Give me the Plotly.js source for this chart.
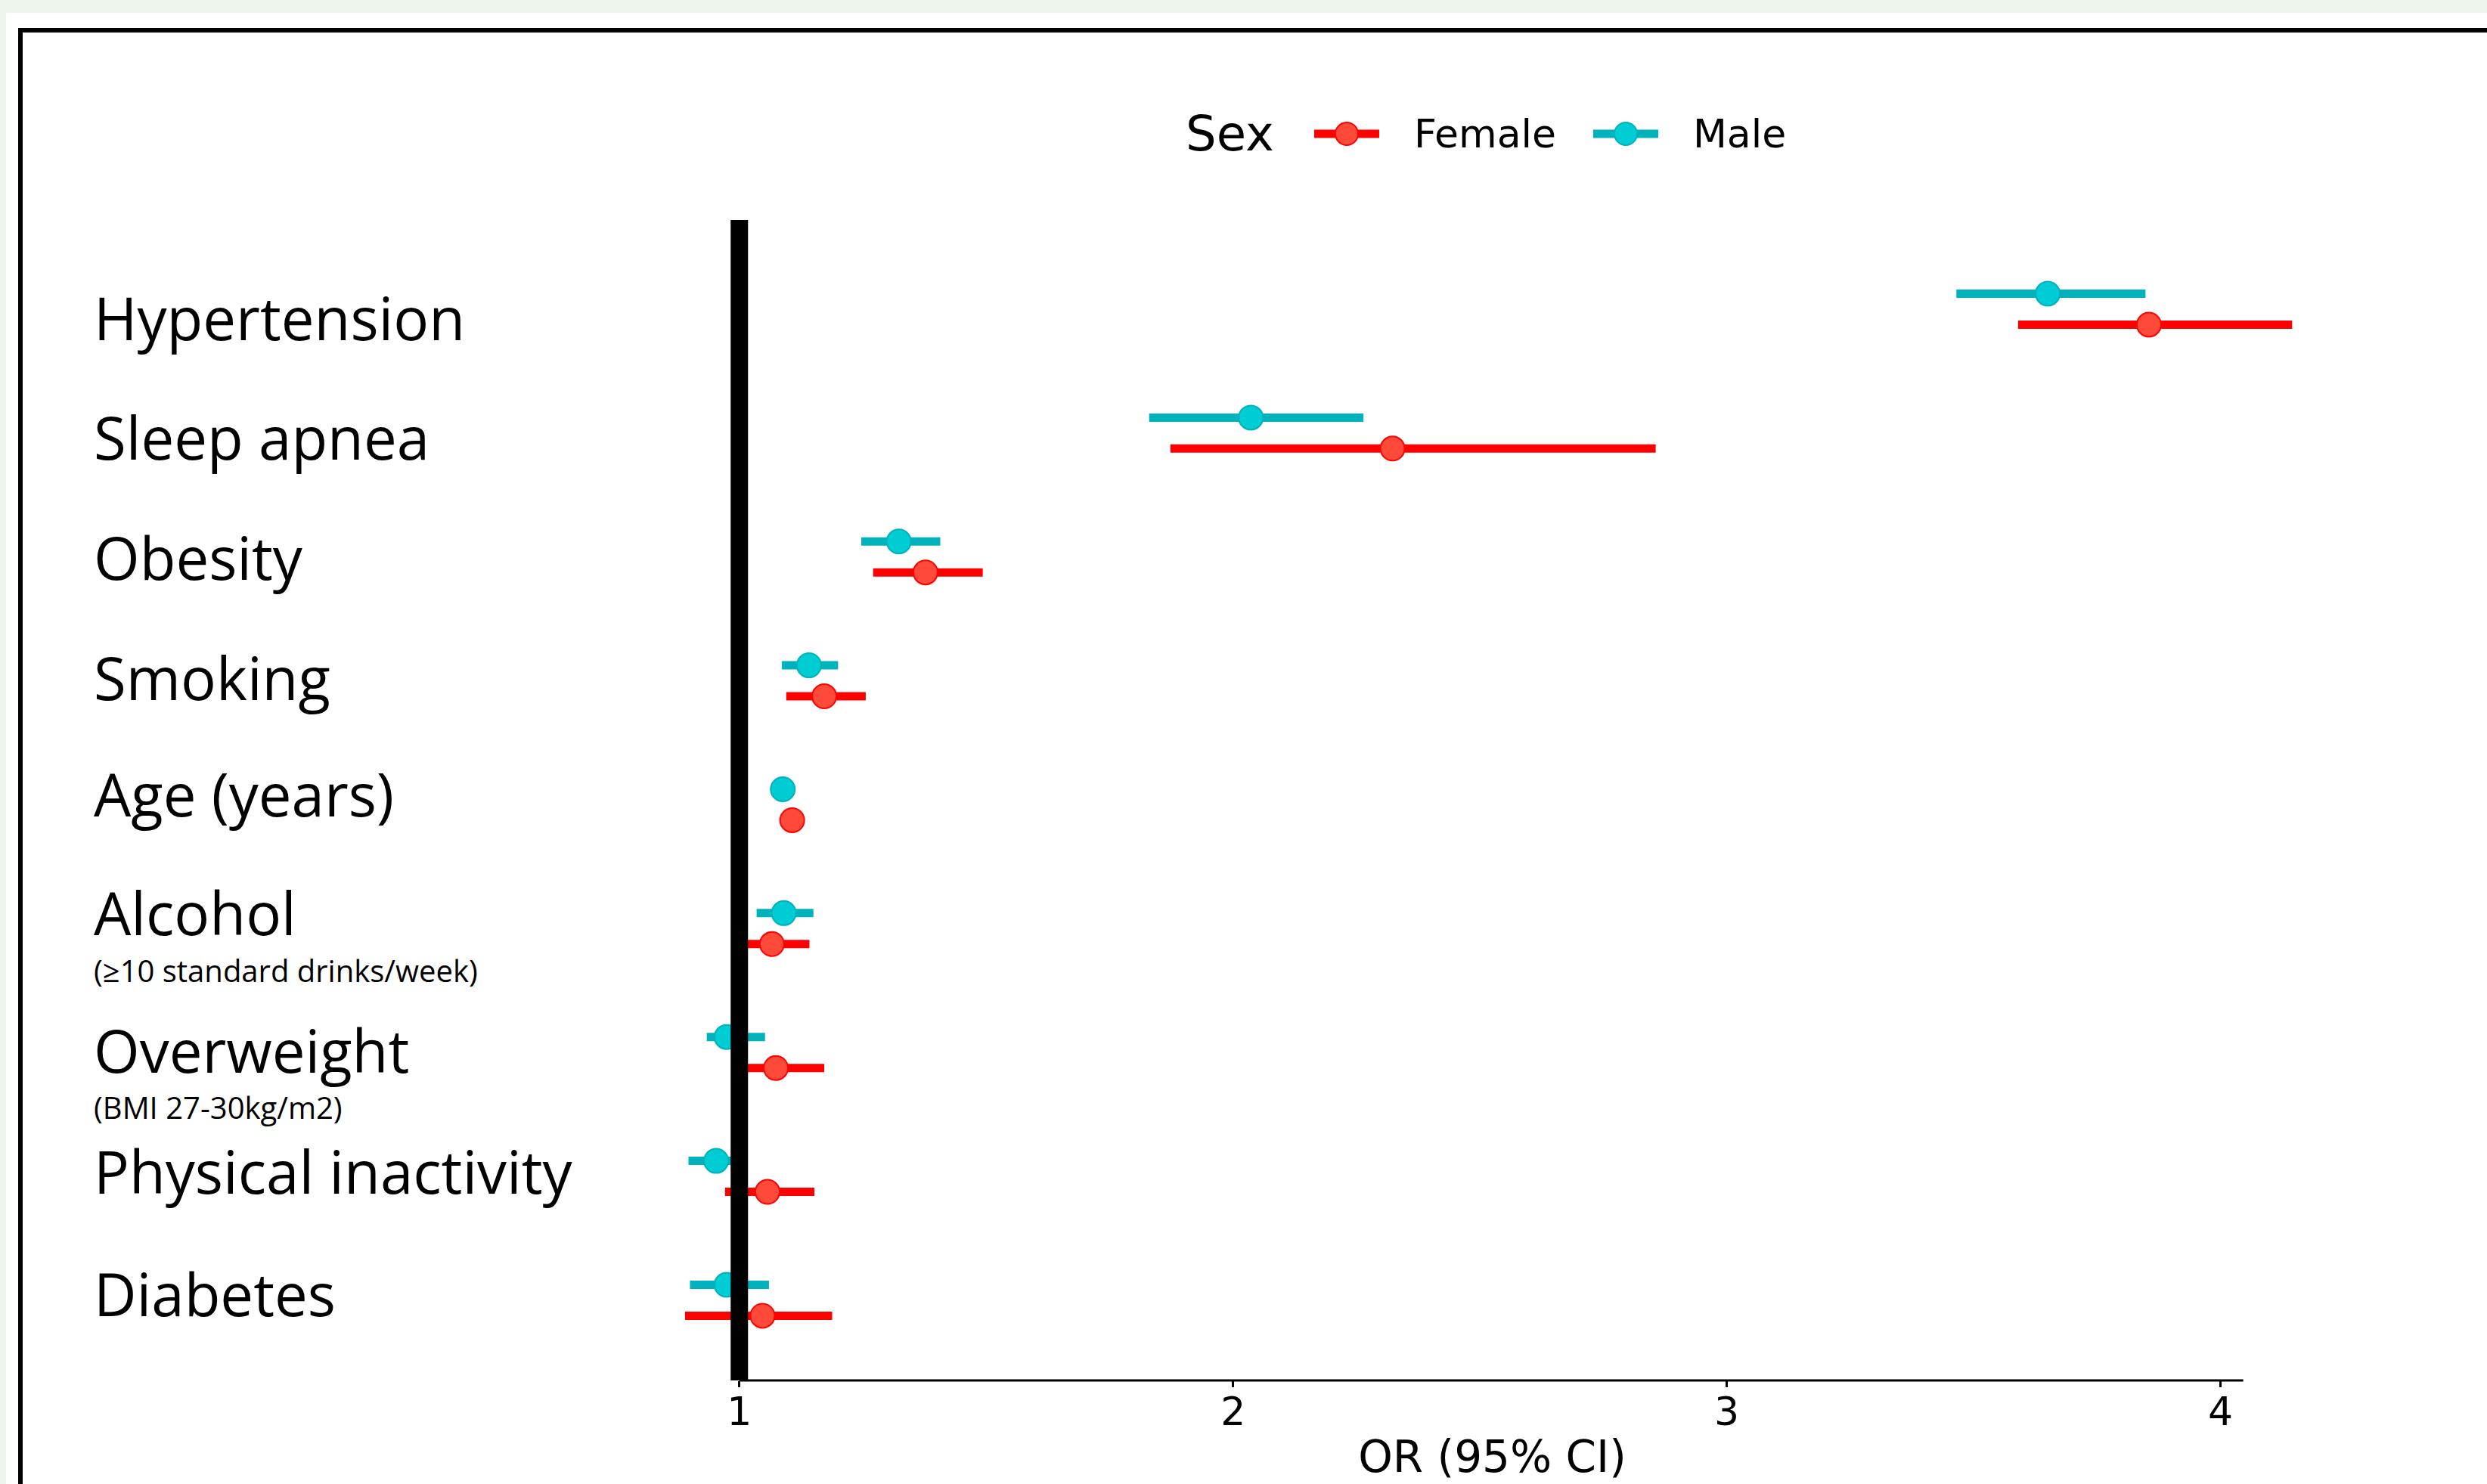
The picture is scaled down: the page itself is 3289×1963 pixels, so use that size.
<!DOCTYPE html>
<html>
<head>
<meta charset="utf-8">
<script src="https://cdn.plot.ly/plotly-3.0.1.min.js"></script>
<style>
  html, body { margin: 0; padding: 0; background: #EEF5EC; }
  #chart { width: 3289px; height: 1963px; }
</style>
</head>
<body>
<div id="chart"></div>
<script>
// ---------------- DATA ----------------
const categories = ['Hypertension', 'Sleep apnea', 'Obesity', 'Smoking', 'Age (years)',
                    'Alcohol', 'Overweight', 'Physical inactivity', 'Diabetes'];
const sublabels  = ['', '', '', '', '', '(\u226510 standard drinks/week)', '(BMI 27-30kg/m2)', '', ''];

const maleOR   = [3.650, 2.036, 1.323, 1.141, 1.088, 1.090, 0.974, 0.953, 0.974];
const maleLo   = [3.465, 1.830, 1.247, 1.086, 1.079, 1.035, 0.934, 0.897, 0.900];
const maleHi   = [3.848, 2.264, 1.407, 1.200, 1.097, 1.150, 1.052, 1.000, 1.060];

const femaleOR = [3.855, 2.323, 1.377, 1.172, 1.107, 1.066, 1.074, 1.057, 1.047];
const femaleLo = [3.590, 1.873, 1.271, 1.095, 1.098, 1.016, 1.000, 0.971, 0.890];
const femaleHi = [4.145, 2.856, 1.493, 1.256, 1.116, 1.142, 1.172, 1.152, 1.188];

const xTicks = [1, 2, 3, 4];
const legendTitle = 'Sex';
const seriesNames = ['Female', 'Male'];
const xTitle = 'OR (95% CI)';

// ---------------- STYLE ----------------
const W = 3289, H = 1963;
const M = {l: 808, r: 150, t: 291, b: 137};
const plotW = W - M.l - M.r, plotH = H - M.t - M.b;
const px2x = p => (p - M.l) / plotW;           // pixel -> paper x
const px2y = p => (H - M.b - p) / plotH;        // pixel -> paper y

const RED_LINE = '#FF0000', RED_MARK = '#FF4A3A';
const CYAN_LINE = '#00B2BB', CYAN_MARK = '#00CCD3';
const seriesLine = [RED_LINE, CYAN_LINE], seriesMark = [RED_MARK, CYAN_MARK];
const groupOffset = 0.125;                       // vertical dodge of the two series
const labelShift = [-11, -5, 0, 5, 14, 21, 3, 7, 9];   // px nudges of row labels
const subShift   = [0, 0, 0, 0, 0, -55, -72, 0, 0];
const LABEL_FONT = 'Open Sans, Noto Sans, sans-serif';
const AXIS_FONT  = 'DejaVu Sans, sans-serif';

// legend geometry (pixels)
const LEG_Y = 177;
const LEG_TITLE_X = 1566;
const LEG_KEY_X = [1738, 2107];   // start of key line for each series
const LEG_KEY_LEN = 86;
const LEG_TEXT_GAP = 130;         // key start -> text start

const n = categories.length;
const rowPos = categories.map((c, i) => n - 1 - i);

function seriesTrace(name, est, lo, hi, dy, lineCol, markCol) {
  return {
    type: 'scatter', mode: 'markers', name: name, showlegend: false,
    x: est, y: rowPos.map(v => v + dy),
    text: categories,
    error_x: {
      type: 'data', symmetric: false,
      array: hi.map((h, i) => h - est[i]),
      arrayminus: lo.map((l, i) => est[i] - l),
      thickness: 11, width: 0, color: lineCol
    },
    marker: {size: 32, color: markCol, line: {color: lineCol, width: 2}},
    hovertemplate: '%{text}<br>OR %{x}<extra>' + name + '</extra>'
  };
}

const data = [
  seriesTrace(seriesNames[0], femaleOR, femaleLo, femaleHi, -groupOffset, RED_LINE, RED_MARK),
  seriesTrace(seriesNames[1], maleOR, maleLo, maleHi, groupOffset, CYAN_LINE, CYAN_MARK)
];

const annotations = [];
categories.forEach((c, i) => {
  annotations.push({
    xref: 'paper', yref: 'y', x: px2x(122), y: rowPos[i], xanchor: 'left', yanchor: 'middle',
    yshift: labelShift[i], text: c, showarrow: false,
    font: {family: LABEL_FONT, size: 78, color: '#000'}
  });
  if (sublabels[i]) {
    annotations.push({
      xref: 'paper', yref: 'y', x: px2x(122), y: rowPos[i], xanchor: 'left', yanchor: 'middle',
      yshift: subShift[i], text: sublabels[i], showarrow: false,
      font: {family: LABEL_FONT, size: 40, color: '#000'}
    });
  }
});

const shapes = [
  // white card with black frame
  {type: 'rect', xref: 'paper', yref: 'paper', layer: 'below',
   x0: px2x(8), x1: px2x(3500), y0: px2y(2200), y1: px2y(17),
   fillcolor: '#FFFFFF', line: {width: 0}},
  {type: 'rect', xref: 'paper', yref: 'paper', layer: 'below',
   x0: px2x(27), x1: px2x(3500), y0: px2y(2200), y1: px2y(40),
   fillcolor: 'rgba(0,0,0,0)', line: {color: '#000', width: 6}},
  // x axis line
  {type: 'line', xref: 'x', yref: 'paper', x0: 1, x1: 4.046, y0: 0, y1: 0,
   line: {color: '#000', width: 3}, layer: 'above'},
  // reference line OR = 1
  {type: 'line', xref: 'x', yref: 'paper', x0: 1, x1: 1, y0: 0, y1: 1,
   line: {color: '#000', width: 23}, layer: 'above'}
];

// legend: title, key (line + dot) and label for each series
annotations.push({
  xref: 'paper', yref: 'paper', x: px2x(LEG_TITLE_X), y: px2y(LEG_Y), xanchor: 'left', yanchor: 'middle',
  text: legendTitle, showarrow: false, font: {family: AXIS_FONT, size: 64, color: '#000'}
});
seriesNames.forEach((name, k) => {
  const x0 = LEG_KEY_X[k], xc = x0 + LEG_KEY_LEN / 2, r = 15;
  shapes.push({type: 'line', xref: 'paper', yref: 'paper',
    x0: px2x(x0), x1: px2x(x0 + LEG_KEY_LEN), y0: px2y(LEG_Y), y1: px2y(LEG_Y),
    line: {color: seriesLine[k], width: 11}});
  shapes.push({type: 'circle', xref: 'paper', yref: 'paper',
    x0: px2x(xc - r), x1: px2x(xc + r), y0: px2y(LEG_Y + r), y1: px2y(LEG_Y - r),
    fillcolor: seriesMark[k], line: {color: seriesLine[k], width: 2}});
  annotations.push({
    xref: 'paper', yref: 'paper', x: px2x(x0 + LEG_TEXT_GAP), y: px2y(LEG_Y), xanchor: 'left', yanchor: 'middle',
    text: name, showarrow: false, font: {family: AXIS_FONT, size: 52, color: '#000'}
  });
});

const layout = {
  width: W, height: H,
  margin: M,
  paper_bgcolor: '#EEF5EC',
  plot_bgcolor: 'rgba(0,0,0,0)',
  showlegend: false,
  xaxis: {
    range: [0.74, 4.31], showgrid: false, zeroline: false, showline: false,
    tickmode: 'array', tickvals: xTicks, ticks: 'outside', ticklen: 8, tickwidth: 3,
    tickcolor: '#000', ticklabelstandoff: -12,
    tickfont: {family: AXIS_FONT, size: 52, color: '#000'},
    title: {text: xTitle, font: {family: AXIS_FONT, size: 58, color: '#000'}, standoff: 10}
  },
  yaxis: {
    range: [-0.647, 8.72], showgrid: false, zeroline: false, showline: false,
    showticklabels: false, ticks: ''
  },
  shapes: shapes,
  annotations: annotations
};

Plotly.newPlot('chart', data, layout, {staticPlot: true, displayModeBar: false});
</script>
</body>
</html>
